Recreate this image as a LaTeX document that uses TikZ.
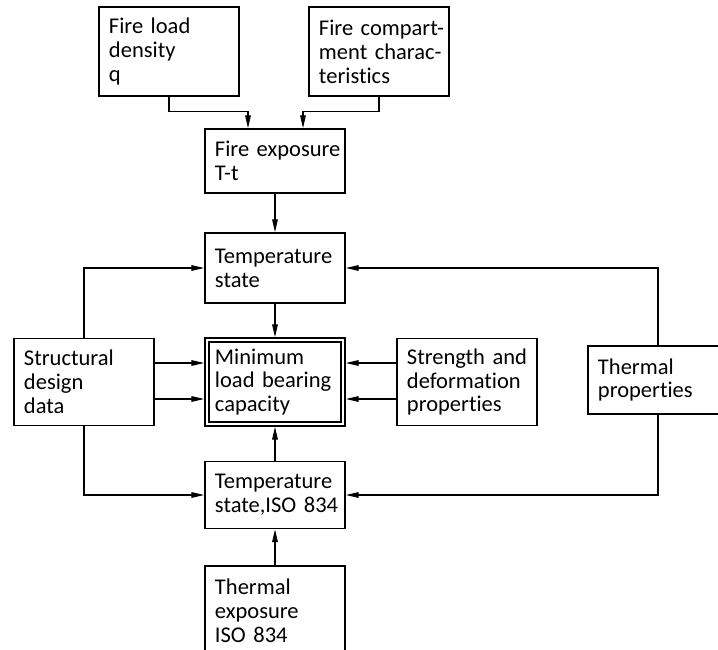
\documentclass[tikz,border=0pt]{standalone}
\usepackage{fontspec}
\setmainfont{Carlito}[Ligatures=NoCommon]
\usetikzlibrary{arrows.meta,calc}

\begin{document}
\begin{tikzpicture}[x=0.025cm, y=-0.025cm,
    box/.style={draw, line width=1.2pt, rectangle, minimum width=3.5cm, inner xsep=0.1cm,
        text width=3.3cm, align=left, font=\fontsize{16}{17}\selectfont,
        execute at begin node={\leftskip=0.15cm}},
    arr/.style={-{Triangle[length=0.32cm,width=0.14cm]}, line width=0.9pt}]
    \useasboundingbox (0,0) rectangle (718,650);
    \clip (0,0) rectangle (718,650);

    % Nodes
    \node[box, minimum height=2.225cm] (fload) at (169,51.5) {Fire load\\density\\q};
    \node[box, minimum height=2.225cm] (fcomp) at (379,51.5) {Fire compart-\\ment charac-\\teristics};
    \node[box, minimum height=1.6cm] (fexp) at (275,161) {Fire exposure\\T-t};
    \node[box, minimum height=1.75cm] (tstate) at (275,268) {Temperature\\state};
    \node[box, minimum height=2.2cm] (minlbc) at (275,382) {Minimum\\load bearing\\capacity};
    \node[box, minimum height=2.175cm] (sdd) at (84,382) {Structural\\design\\data};
    \node[box, minimum height=2.175cm] (sdp) at (467,382) {Strength and\\deformation\\properties};
    \node[box, minimum height=1.7cm] (thprop) at (658,380) {Thermal\\properties};
    \node[box, minimum height=1.675cm] (tiso) at (275,495) {Temperature\\state,ISO 834};
    \node[box, minimum height=2.25cm] (thexp) at (275,611) {Thermal\\exposure\\ISO 834};
    \draw[line width=1.2pt] ($(minlbc.north west)+(5,5)$) rectangle ($(minlbc.south east)+(-5,-5)$);

    % Arrows
    \draw[arr] (fload.south) -- ++(0,15) -| ($(fexp.north)+(-27,0)$);
    \draw[arr] (fcomp.south) -- ++(0,15) -| ($(fexp.north)+(28,0)$);
    \draw[arr] (fexp.south) -- (tstate.north);
    \draw[arr] (tstate.south) -- (minlbc.north);
    \draw[arr] (sdd.north) |- (tstate.west);
    \draw[arr] (thprop.north) |- (tstate.east);
    \draw[arr] ($(sdd.east)+(0,-19)$) -- ($(minlbc.west)+(0,-19)$);
    \draw[arr] ($(sdd.east)+(0,17)$) -- ($(minlbc.west)+(0,17)$);
    \draw[arr] ($(sdp.west)+(0,-19)$) -- ($(minlbc.east)+(0,-19)$);
    \draw[arr] ($(sdp.west)+(0,17)$) -- ($(minlbc.east)+(0,17)$);
    \draw[arr] (sdd.south) |- (tiso.west);
    \draw[arr] (thprop.south) |- (tiso.east);
    \draw[arr] (tiso.north) -- (minlbc.south);
    \draw[arr] (thexp.north) -- (tiso.south);
\end{tikzpicture}
\end{document}
